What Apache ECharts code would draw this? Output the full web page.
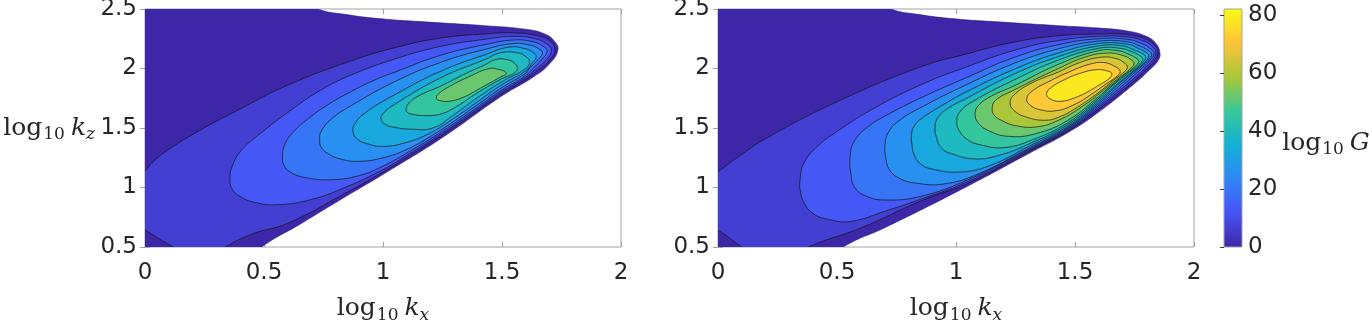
<!DOCTYPE html>
<html>
<head>
<meta charset="utf-8">
<script src="https://cdn.jsdelivr.net/npm/echarts@6/dist/echarts.min.js"></script>
<style>
  html, body { margin: 0; padding: 0; background: #fff; }
  #main { width: 1372px; height: 323px; }
</style>
</head>
<body>
<div id="main"></div>
<script>
// contour outlines, points in (log10 kx, log10 kz)
// left panel: outer edge of the filled area, then one outline per level
const leftRegion = [[-0.1,2.6],[0.70,2.56],[0.726,2.5],[0.84,2.455],[0.98,2.42],[1.19,2.39],[1.427,2.36],[1.6,2.33],[1.68,2.29],[1.72,2.23],[1.735,2.155],[1.70,2.04],[1.64,1.94],[1.5,1.77],[1.25,1.42],[1.0,1.11],[0.84,0.92],[0.65,0.69],[0.49,0.5],[0.45,0.4],[-0.1,0.4]];
const left1 = [[-0.1,1.0],[0,1.14],[0.03,1.21],[0.1,1.32],[0.23,1.48],[0.4,1.66],[0.6,1.86],[0.86,2.06],[1.05,2.175],[1.24,2.255],[1.427,2.29],[1.55,2.30],[1.65,2.275],[1.70,2.235],[1.722,2.16],[1.70,2.07],[1.66,2.0],[1.6,1.911],[1.5,1.79],[1.4,1.65],[1.3,1.51],[1.2,1.378],[1.1,1.254],[1.0,1.13],[0.84,0.95],[0.6,0.70],[0.45,0.61],[0.336,0.5],[0.27,0.42],[0.18,0.42],[0.118,0.5],[0.05,0.58],[0,0.643],[-0.1,0.74]];
const left2 = [[0.357,1.08],[0.365,1.17],[0.40,1.30],[0.47,1.43],[0.62,1.66],[0.74,1.82],[0.86,1.94],[1.05,2.08],[1.24,2.185],[1.427,2.245],[1.55,2.27],[1.64,2.25],[1.685,2.21],[1.708,2.155],[1.685,2.07],[1.645,2.0],[1.6,1.926],[1.5,1.805],[1.4,1.665],[1.3,1.525],[1.2,1.393],[1.1,1.27],[1.0,1.15],[0.84,1.0],[0.70,0.90],[0.56,0.855],[0.46,0.875],[0.395,0.93],[0.365,0.99]];
const left3 = [[0.578,1.26],[0.585,1.35],[0.62,1.46],[0.70,1.60],[0.78,1.71],[0.86,1.80],[0.95,1.89],[1.05,1.97],[1.24,2.11],[1.427,2.20],[1.55,2.24],[1.63,2.225],[1.67,2.19],[1.69,2.145],[1.665,2.07],[1.63,2.0],[1.6,1.941],[1.5,1.82],[1.4,1.68],[1.3,1.54],[1.2,1.41],[1.1,1.29],[1.0,1.18],[0.9,1.10],[0.78,1.065],[0.67,1.085],[0.61,1.13],[0.583,1.19]];
const left4 = [[0.734,1.40],[0.74,1.47],[0.78,1.57],[0.86,1.68],[1.05,1.89],[1.24,2.05],[1.427,2.16],[1.55,2.21],[1.62,2.195],[1.655,2.165],[1.67,2.13],[1.645,2.06],[1.615,2.0],[1.6,1.961],[1.5,1.84],[1.4,1.70],[1.3,1.56],[1.2,1.43],[1.1,1.32],[1.0,1.25],[0.9,1.22],[0.82,1.24],[0.765,1.29],[0.74,1.34]];
const left5 = [[0.874,1.47],[0.88,1.53],[0.92,1.62],[1.05,1.78],[1.24,1.975],[1.427,2.115],[1.53,2.18],[1.60,2.165],[1.63,2.135],[1.644,2.10],[1.625,2.04],[1.6,1.98],[1.5,1.865],[1.4,1.725],[1.3,1.585],[1.2,1.46],[1.1,1.38],[1.0,1.345],[0.93,1.37],[0.89,1.41]];
const left6 = [[0.993,1.567],[1.0,1.62],[1.05,1.70],[1.24,1.92],[1.427,2.075],[1.50,2.135],[1.57,2.13],[1.60,2.10],[1.616,2.06],[1.60,2.0],[1.5,1.89],[1.4,1.76],[1.3,1.615],[1.21,1.50],[1.12,1.49],[1.05,1.505],[1.01,1.53]];
const left7 = [[1.098,1.65],[1.105,1.70],[1.15,1.77],[1.24,1.85],[1.35,1.96],[1.427,2.03],[1.476,2.077],[1.53,2.07],[1.555,2.04],[1.565,2.0],[1.55,1.96],[1.5,1.915],[1.4,1.80],[1.3,1.67],[1.238,1.615],[1.17,1.605],[1.125,1.615],[1.103,1.63]];
const left8 = [[1.224,1.75],[1.235,1.79],[1.28,1.85],[1.36,1.93],[1.448,2.0],[1.49,1.99],[1.512,1.975],[1.518,1.955],[1.50,1.935],[1.45,1.88],[1.4,1.825],[1.34,1.76],[1.28,1.725],[1.24,1.73]];

// right panel
const rightRegion = [[-0.1,2.6],[0.70,2.56],[0.726,2.5],[0.84,2.455],[0.98,2.42],[1.19,2.39],[1.43,2.36],[1.60,2.34],[1.72,2.315],[1.80,2.27],[1.84,2.21],[1.857,2.13],[1.85,2.07],[1.814,1.99],[1.73,1.84],[1.59,1.62],[1.465,1.455],[1.31,1.29],[1.045,1.007],[0.709,0.67],[0.526,0.5],[0.48,0.4],[-0.1,0.4]];
const right1 = [[-0.1,1.0],[0,1.133],[0.08,1.25],[0.2,1.41],[0.5,1.72],[0.86,2.02],[1.04,2.12],[1.24,2.22],[1.43,2.275],[1.60,2.29],[1.72,2.285],[1.80,2.245],[1.835,2.195],[1.848,2.14],[1.835,2.07],[1.80,1.995],[1.73,1.865],[1.60,1.66],[1.47,1.475],[1.30,1.295],[1.05,1.035],[0.85,0.885],[0.6,0.66],[0.38,0.5],[0.33,0.42],[0.18,0.42],[0.10,0.5],[0,0.64],[-0.1,0.72]];
const right2 = [[0.344,1.05],[0.36,1.2],[0.42,1.35],[0.5,1.47],[0.65,1.66],[0.86,1.87],[1.04,2.01],[1.24,2.15],[1.43,2.235],[1.60,2.27],[1.72,2.265],[1.79,2.23],[1.825,2.185],[1.84,2.135],[1.825,2.07],[1.79,1.995],[1.72,1.87],[1.60,1.675],[1.47,1.485],[1.30,1.305],[1.05,1.05],[0.85,0.90],[0.70,0.80],[0.56,0.715],[0.47,0.73],[0.40,0.78],[0.36,0.88],[0.346,0.97]];
const right3 = [[0.555,1.25],[0.57,1.38],[0.63,1.51],[0.72,1.62],[0.86,1.76],[1.04,1.92],[1.24,2.09],[1.43,2.20],[1.60,2.25],[1.72,2.245],[1.78,2.21],[1.815,2.17],[1.832,2.13],[1.815,2.07],[1.78,2.0],[1.71,1.875],[1.60,1.69],[1.47,1.495],[1.30,1.315],[1.05,1.065],[0.85,0.925],[0.70,0.895],[0.62,0.93],[0.575,1.0],[0.558,1.12]];
const right4 = [[0.702,1.36],[0.715,1.46],[0.76,1.56],[0.86,1.68],[1.04,1.86],[1.24,2.04],[1.43,2.165],[1.60,2.23],[1.72,2.225],[1.77,2.19],[1.805,2.155],[1.822,2.12],[1.805,2.065],[1.77,2.0],[1.70,1.88],[1.60,1.705],[1.47,1.505],[1.30,1.325],[1.10,1.12],[0.95,1.03],[0.82,1.04],[0.76,1.08],[0.72,1.15],[0.705,1.25]];
const right5 = [[0.813,1.44],[0.825,1.52],[0.87,1.60],[0.95,1.70],[1.04,1.80],[1.24,1.99],[1.43,2.13],[1.60,2.21],[1.72,2.205],[1.765,2.17],[1.795,2.14],[1.81,2.11],[1.795,2.055],[1.76,1.995],[1.69,1.88],[1.60,1.72],[1.47,1.515],[1.30,1.34],[1.15,1.19],[1.02,1.13],[0.90,1.155],[0.85,1.20],[0.823,1.28],[0.815,1.36]];
const right6 = [[0.912,1.51],[0.925,1.59],[0.97,1.67],[1.04,1.745],[1.24,1.95],[1.43,2.10],[1.60,2.19],[1.70,2.19],[1.75,2.155],[1.783,2.125],[1.797,2.095],[1.78,2.04],[1.745,1.98],[1.68,1.875],[1.60,1.735],[1.47,1.53],[1.30,1.36],[1.18,1.27],[1.08,1.24],[0.98,1.285],[0.94,1.33],[0.918,1.42]];
const right7 = [[1.003,1.565],[1.015,1.63],[1.06,1.71],[1.24,1.90],[1.43,2.07],[1.60,2.17],[1.69,2.17],[1.74,2.14],[1.77,2.11],[1.785,2.08],[1.765,2.025],[1.73,1.97],[1.66,1.86],[1.60,1.75],[1.47,1.545],[1.32,1.40],[1.20,1.335],[1.10,1.36],[1.05,1.40],[1.013,1.48]];
const right8 = [[1.08,1.62],[1.095,1.69],[1.15,1.77],[1.24,1.85],[1.43,2.035],[1.60,2.15],[1.68,2.15],[1.725,2.12],[1.755,2.09],[1.768,2.06],[1.748,2.01],[1.71,1.95],[1.645,1.845],[1.60,1.765],[1.47,1.565],[1.33,1.45],[1.22,1.43],[1.14,1.475],[1.095,1.54]];
const right9 = [[1.152,1.66],[1.165,1.73],[1.24,1.815],[1.43,2.0],[1.55,2.10],[1.64,2.13],[1.70,2.11],[1.735,2.075],[1.748,2.04],[1.728,1.99],[1.69,1.93],[1.63,1.835],[1.53,1.68],[1.43,1.565],[1.34,1.51],[1.25,1.52],[1.19,1.565],[1.16,1.61]];
const right10 = [[1.227,1.71],[1.245,1.78],[1.32,1.88],[1.43,1.97],[1.52,2.05],[1.61,2.095],[1.67,2.085],[1.705,2.05],[1.72,2.01],[1.70,1.96],[1.66,1.90],[1.60,1.80],[1.51,1.675],[1.43,1.59],[1.37,1.565],[1.29,1.595],[1.245,1.645]];
const right11 = [[1.297,1.745],[1.32,1.81],[1.39,1.89],[1.48,1.975],[1.56,2.035],[1.62,2.05],[1.665,2.02],[1.69,1.975],[1.67,1.925],[1.63,1.87],[1.57,1.785],[1.50,1.70],[1.42,1.645],[1.35,1.655],[1.31,1.695]];
const right12 = [[1.38,1.785],[1.40,1.84],[1.46,1.91],[1.53,1.965],[1.59,1.99],[1.635,1.98],[1.655,1.955],[1.64,1.91],[1.60,1.86],[1.55,1.80],[1.50,1.755],[1.445,1.725],[1.40,1.74]];

// level value of each outline (log10 G), and the colour scale range
const leftLevels = [0, 6.5, 13, 19.5, 26, 32.5, 39, 45.5, 52];
const rightLevels = [0, 6.5, 13, 19.5, 26, 32.5, 39, 45.5, 52, 58.5, 65, 71.5, 78];
const colorMin = 0;
const colorMax = 82;

// parula colormap, 8 samples
const parula = [
  [0.2422, 0.1504, 0.6603],
  [0.2810, 0.3228, 0.9579],
  [0.1786, 0.5289, 0.9682],
  [0.0689, 0.6948, 0.8394],
  [0.2161, 0.7843, 0.5923],
  [0.6720, 0.7793, 0.2227],
  [0.9970, 0.7659, 0.2199],
  [0.9769, 0.9839, 0.0805]
];

function parulaColor(t) {
  t = Math.max(0, Math.min(1, t));
  const pos = t * (parula.length - 1);
  const i = Math.min(Math.floor(pos), parula.length - 2);
  const f = pos - i;
  const c = parula[i].map((v, k) => Math.round(255 * (v + (parula[i + 1][k] - v) * f)));
  return 'rgb(' + c.join(',') + ')';
}

const leftShapes = [leftRegion, left1, left2, left3, left4, left5, left6, left7, left8];
const rightShapes = [rightRegion, right1, right2, right3, right4, right5, right6, right7, right8, right9, right10, right11, right12];

const axisGray = '#a3a3a3';
const textColor = '#262626';
const numFont = 'DejaVu Sans';
const mathFont = 'DejaVu Serif';

const mathRich = {
  n: { fontFamily: mathFont, fontSize: 25, color: textColor },
  s: { fontFamily: mathFont, fontSize: 17, color: textColor, padding: [14, 0, 0, 1] },
  i: { fontFamily: mathFont, fontSize: 25, fontStyle: 'italic', color: textColor, padding: [0, 0, 0, 6] },
  si: { fontFamily: mathFont, fontSize: 17, fontStyle: 'italic', color: textColor, padding: [14, 0, 0, 0] }
};

function contourSeries(axisIdx, shapes, levels) {
  return {
    type: 'custom',
    xAxisIndex: axisIdx,
    yAxisIndex: axisIdx,
    clip: true,
    silent: true,
    data: shapes.map((s, i) => [s[0][0], s[0][1], levels[i]]),
    renderItem: function (params, api) {
      const i = params.dataIndex;
      const pts = shapes[i].map(p => api.coord(p));
      return {
        type: 'polygon',
        shape: { points: pts, smooth: 0.45 },
        style: {
          fill: parulaColor((levels[i] - colorMin) / (colorMax - colorMin)),
          stroke: i === 0 ? '#2a1c7a' : '#141414',
          lineWidth: i === 0 ? 0.6 : 0.7
        }
      };
    }
  };
}

function bottomAxis(grid, name) {
  return {
    type: 'value', gridIndex: grid, position: 'bottom',
    min: 0, max: 2, interval: 0.5,
    axisLine: { show: false },
    axisTick: { inside: true, length: 5, lineStyle: { color: axisGray } },
    splitLine: { show: false },
    axisLabel: { margin: 15, fontFamily: numFont, fontSize: 23, color: textColor },
    name: name,
    nameLocation: 'middle',
    nameGap: 46,
    nameTextStyle: { rich: mathRich }
  };
}

function topAxis(grid) {
  return {
    type: 'value', gridIndex: grid, position: 'top',
    min: 0, max: 2, interval: 0.5,
    axisLine: { show: false },
    axisTick: { inside: true, length: 5, lineStyle: { color: axisGray } },
    splitLine: { show: false },
    axisLabel: { show: false }
  };
}

function leftAxis(grid, name) {
  return {
    type: 'value', gridIndex: grid, position: 'left',
    min: 0.5, max: 2.5, interval: 0.5,
    axisLine: { show: false },
    axisTick: { inside: true, length: 5, lineStyle: { color: axisGray } },
    splitLine: { show: false },
    axisLabel: { margin: 8, fontFamily: numFont, fontSize: 23, color: textColor },
    name: name,
    nameLocation: 'middle',
    nameRotate: 0,
    nameGap: 50,
    nameTextStyle: { rich: mathRich }
  };
}

function rightAxis(grid) {
  return {
    type: 'value', gridIndex: grid, position: 'right',
    min: 0.5, max: 2.5, interval: 0.5,
    axisLine: { show: false },
    axisTick: { inside: true, length: 5, lineStyle: { color: axisGray } },
    splitLine: { show: false },
    axisLabel: { show: false }
  };
}

const chart = echarts.init(document.getElementById('main'), null, { renderer: 'canvas' });

const option = {
  animation: false,
  backgroundColor: '#fff',
  grid: [
    { left: 145, top: 9, width: 476, height: 238, show: true, borderColor: axisGray, borderWidth: 1, backgroundColor: 'transparent', outerBoundsMode: 'none' },
    { left: 718, top: 9, width: 476, height: 238, show: true, borderColor: axisGray, borderWidth: 1, backgroundColor: 'transparent', outerBoundsMode: 'none' },
    { left: 1224, top: 9, width: 18, height: 238, outerBoundsMode: 'none' }
  ],
  xAxis: [
    bottomAxis(0, '{n|log}{s|10}{i|k}{si|x}'),
    topAxis(0),
    bottomAxis(1, '{n|log}{s|10}{i|k}{si|x}'),
    topAxis(1),
    { type: 'value', gridIndex: 2, min: 0, max: 1, show: false }
  ],
  yAxis: [
    leftAxis(0, '{n|log}{s|10}{i|k}{si|z}'),
    rightAxis(0),
    leftAxis(1, ''),
    rightAxis(1),
    {
      type: 'value', gridIndex: 2, position: 'right',
      min: colorMin, max: colorMax, interval: 20,
      z: 5,
      axisLine: { show: false },
      axisTick: { inside: true, length: 4, lineStyle: { color: '#3a3a3a' } },
      splitLine: { show: false },
      axisLabel: { margin: 6, fontFamily: numFont, fontSize: 23, color: textColor, showMaxLabel: false },
      name: '{n|log}{s|10}{i|G}',
      nameLocation: 'middle',
      nameRotate: 0,
      nameGap: 37,
      nameTextStyle: { rich: mathRich, padding: [30, 0, 0, 0] }
    }
  ],
  series: [
    contourSeries(0, leftShapes, leftLevels),
    contourSeries(2, rightShapes, rightLevels),
    {
      // colour bar
      type: 'custom',
      xAxisIndex: 4,
      yAxisIndex: 4,
      silent: true,
      data: [[0, colorMin, colorMax]],
      renderItem: function (params, api) {
        const p0 = api.coord([0, colorMin]);
        const p1 = api.coord([1, colorMax]);
        const stops = parula.map((c, k) => ({
          offset: k / (parula.length - 1),
          color: 'rgb(' + c.map(v => Math.round(v * 255)).join(',') + ')'
        }));
        return {
          type: 'rect',
          shape: { x: p0[0], y: p1[1], width: p1[0] - p0[0], height: p0[1] - p1[1] },
          style: {
            fill: new echarts.graphic.LinearGradient(0, 1, 0, 0, stops),
            stroke: axisGray,
            lineWidth: 1
          }
        };
      }
    }
  ]
};

chart.setOption(option);

window.addEventListener('resize', function () {
  chart.resize();
});
</script>
</body>
</html>
